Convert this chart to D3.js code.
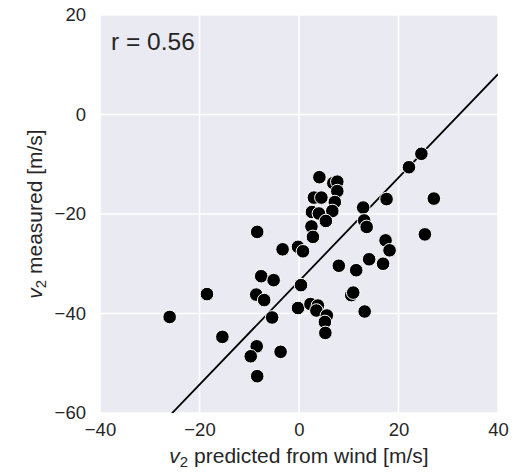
<!DOCTYPE html>
<html>
<head>
<meta charset="utf-8">
<script src="https://cdn.jsdelivr.net/npm/d3@7"></script>
<style>
	body { margin: 0; background: #fff; }
	text { font-family: "Liberation Sans", Arial, sans-serif; fill: #262626; }
</style>
</head>
<body>
<script>
// predicted v2 (x) vs measured v2 (y)
var xPred = [-8.4, -3.3, -0.2, 0.8, 4.1, 6.9, 7.7, 7.7, 3.0, 4.5,
	7.2, 6.7, 2.6, 4.0, 5.4, 2.5, 2.8, 12.9, 13.1, 13.6,
	17.6, 22.1, 24.6, 27.1, 25.3, 17.4, 18.2, 14.1, 16.9, 8.0,
	11.5, -7.6, -5.1, 0.4, -18.5, -8.6, -7.0, 10.5, 10.9, -26.0,
	-5.4, -0.2, 2.3, 3.8, 3.5, 5.6, 5.2, 5.3, 13.2, -15.4,
	-8.5, -9.7, -3.7, -8.4];
var yMeas = [-23.6, -27.1, -26.6, -27.5, -12.6, -13.8, -13.5, -15.4, -16.7, -16.7,
	-17.6, -19.4, -19.6, -19.9, -21.4, -22.5, -24.6, -18.7, -21.3, -22.6,
	-17.0, -10.6, -7.9, -16.9, -24.1, -25.3, -27.3, -29.1, -30.0, -30.4,
	-31.3, -32.5, -33.3, -34.3, -36.1, -36.2, -37.3, -36.3, -35.8, -40.7,
	-40.8, -38.9, -38.1, -38.4, -39.4, -40.4, -41.7, -43.9, -39.6, -44.7,
	-46.6, -48.6, -47.7, -52.6];

var xTicks = [-40, -20, 0, 20, 40];
var yTicks = [-60, -40, -20, 0, 20];

// fitted line
var fitSlope = 1.04;
var fitIntercept = -33.5;
var rText = "r = 0.56";

var fullWidth = 520, fullHeight = 475;
var margin = {top: 15, right: 22, bottom: 62, left: 100},
	width = fullWidth - margin.left - margin.right,
	height = fullHeight - margin.top - margin.bottom;

var xScale = d3.scaleLinear().domain([-40, 40]).range([0, width]);
var yScale = d3.scaleLinear().domain([-60, 20]).range([height, 0]);

var svg = d3.select("body").append("svg")
	.attr("width", fullWidth)
	.attr("height", fullHeight)
	.append("g")
		.attr("transform", "translate(" + margin.left + "," + margin.top + ")");

svg.append("rect")
	.attr("width", width)
	.attr("height", height)
	.style("fill", "#eaeaf2");

svg.append("clipPath").attr("id", "clip")
	.append("rect").attr("width", width).attr("height", height);

// white grid
svg.selectAll(".vgrid")
	.data(xTicks)
	.enter().append("line")
		.attr("x1", function(d) { return xScale(d); })
		.attr("x2", function(d) { return xScale(d); })
		.attr("y1", 0).attr("y2", height)
		.style("stroke", "#fff").style("stroke-width", 1.6);
svg.selectAll(".hgrid")
	.data(yTicks)
	.enter().append("line")
		.attr("y1", function(d) { return yScale(d); })
		.attr("y2", function(d) { return yScale(d); })
		.attr("x1", 0).attr("x2", width)
		.style("stroke", "#fff").style("stroke-width", 1.6);

// axes (labels only, no lines)
var xAxis = d3.axisBottom(xScale).tickValues(xTicks).tickSize(0).tickPadding(10)
	.tickFormat(d3.format("d"));
var yAxis = d3.axisLeft(yScale).tickValues(yTicks).tickSize(0).tickPadding(14)
	.tickFormat(d3.format("d"));

var gx = svg.append("g")
	.attr("class", "x-axis")
	.attr("transform", "translate(0," + height + ")")
	.call(xAxis);
var gy = svg.append("g")
	.attr("class", "y axis")
	.call(yAxis);
[gx, gy].forEach(function(g) {
	g.select(".domain").remove();
	g.selectAll("text")
		.style("font-family", "'Liberation Sans', Arial, sans-serif")
		.style("font-size", "18.5px")
		.style("fill", "#262626");
});
gx.selectAll("text").attr("dy", "0.71em");

// fitted line
var xs = xScale.domain();
svg.append("line")
	.attr("clip-path", "url(#clip)")
	.attr("x1", xScale(xs[0]))
	.attr("y1", yScale(fitSlope * xs[0] + fitIntercept))
	.attr("x2", xScale(xs[1]))
	.attr("y2", yScale(fitSlope * xs[1] + fitIntercept))
	.style("stroke", "black")
	.style("stroke-width", 1.8);

// points
svg.selectAll(".dot")
	.data(xPred)
	.enter().append("circle")
		.attr("class", "dot")
		.attr("r", 6.8)
		.attr("cx", function(d) { return xScale(d); })
		.attr("cy", function(d, i) { return yScale(yMeas[i]); })
		.style("fill", "black")
		.style("stroke", "white")
		.style("stroke-width", 1);

svg.append("text")
	.attr("x", 11)
	.attr("y", 34.5)
	.style("font-size", "24.5px")
	.text(rText);

// axis labels
var xl = svg.append("text")
	.attr("x", width / 2)
	.attr("y", height + 49.5)
	.style("text-anchor", "middle")
	.style("font-size", "21px");
xl.append("tspan").style("font-style", "italic").text("v");
xl.append("tspan").attr("dy", 4).style("font-size", "15px").text("2");
xl.append("tspan").attr("dy", -4).text(" predicted from wind [m/s]");

var yl = svg.append("text")
	.attr("transform", "translate(" + (-58) + "," + (height / 2) + ") rotate(-90)")
	.style("text-anchor", "middle")
	.style("font-size", "21px");
yl.append("tspan").style("font-style", "italic").text("v");
yl.append("tspan").attr("dy", 4).style("font-size", "15px").text("2");
yl.append("tspan").attr("dy", -4).text(" measured [m/s]");
</script>
</body>
</html>
